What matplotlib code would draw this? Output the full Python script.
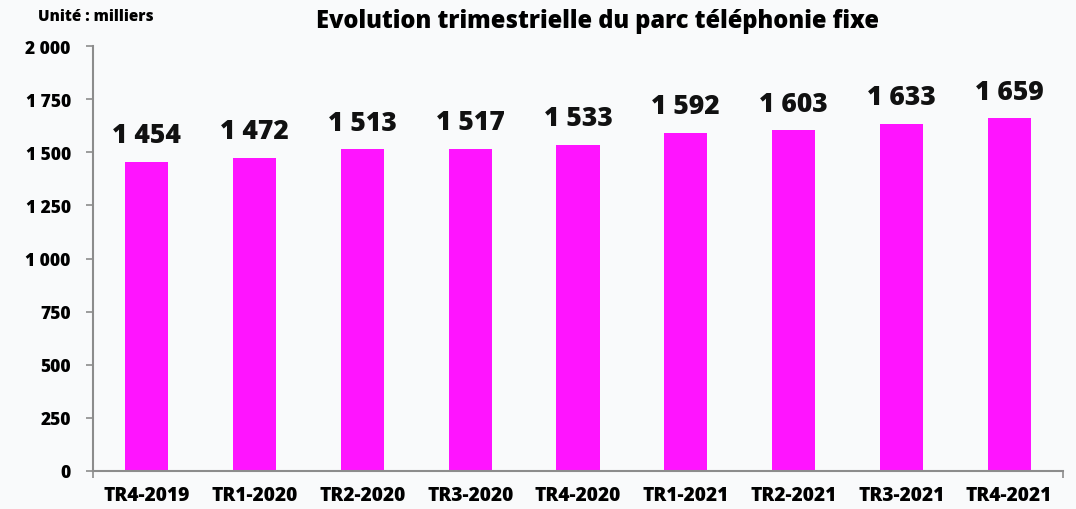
import matplotlib
matplotlib.use('Agg')
import matplotlib.pyplot as plt

# Data
quarters = ['TR4-2019', 'TR1-2020', 'TR2-2020', 'TR3-2020', 'TR4-2020',
            'TR1-2021', 'TR2-2021', 'TR3-2021', 'TR4-2021']
parc = [1454, 1472, 1513, 1517, 1533, 1592, 1603, 1633, 1659]
y_ticks = [0, 250, 500, 750, 1000, 1250, 1500, 1750, 2000]


def fmt(v):
    # French thousands separator (space)
    return f'{v:,}'.replace(',', ' ')


plt.rcParams['font.family'] = ['Open Sans', 'DejaVu Sans']
W = 800  # heavy weight, close to Calibri bold

fig = plt.figure(figsize=(10.76, 5.10), dpi=100)
fig.patch.set_facecolor('#f9fafb')
ax = fig.add_axes([93 / 1076, 38 / 510, (1063 - 93) / 1076, (472 - 47) / 510])
ax.set_facecolor('#f9fafb')

x = list(range(len(quarters)))
bars = ax.bar(x, parc, width=0.4, color='#ff14ff', zorder=2)

for xi, v in zip(x, parc):
    ax.text(xi, v + 65, fmt(v), ha='center', va='bottom',
            fontsize=19, fontweight=W, color='#111111')

ax.set_xlim(-0.5, len(quarters) - 0.5)
ax.set_ylim(0, 2000)
ax.set_yticks(y_ticks)
ax.set_yticklabels([fmt(t) for t in y_ticks], fontsize=12.5, fontweight=W)
ax.set_xticks(x)
ax.set_xticklabels(quarters, fontsize=13.8, fontweight=W)
ax.tick_params(axis='x', length=0, pad=10)
ax.set_xticks([-0.5, len(quarters) - 0.5], minor=True)
ax.tick_params(axis='x', which='minor', length=5, color='#8c8c8c', width=1.2)
ax.tick_params(axis='y', length=5, color='#8c8c8c', width=1.2, pad=11)

for side in ['top', 'right']:
    ax.spines[side].set_visible(False)
for side in ['left', 'bottom']:
    ax.spines[side].set_color('#8c8c8c')
    ax.spines[side].set_linewidth(1.5)

fig.text(598 / 1076, 1 - 21 / 510, 'Evolution trimestrielle du parc téléphonie fixe',
         ha='center', va='center', fontsize=17, fontweight=W)
fig.text(38 / 1076, 1 - 17 / 510, 'Unité : milliers',
         ha='left', va='center', fontsize=11, fontweight=W)

fig.savefig('out.png', dpi=100, facecolor=fig.get_facecolor())
